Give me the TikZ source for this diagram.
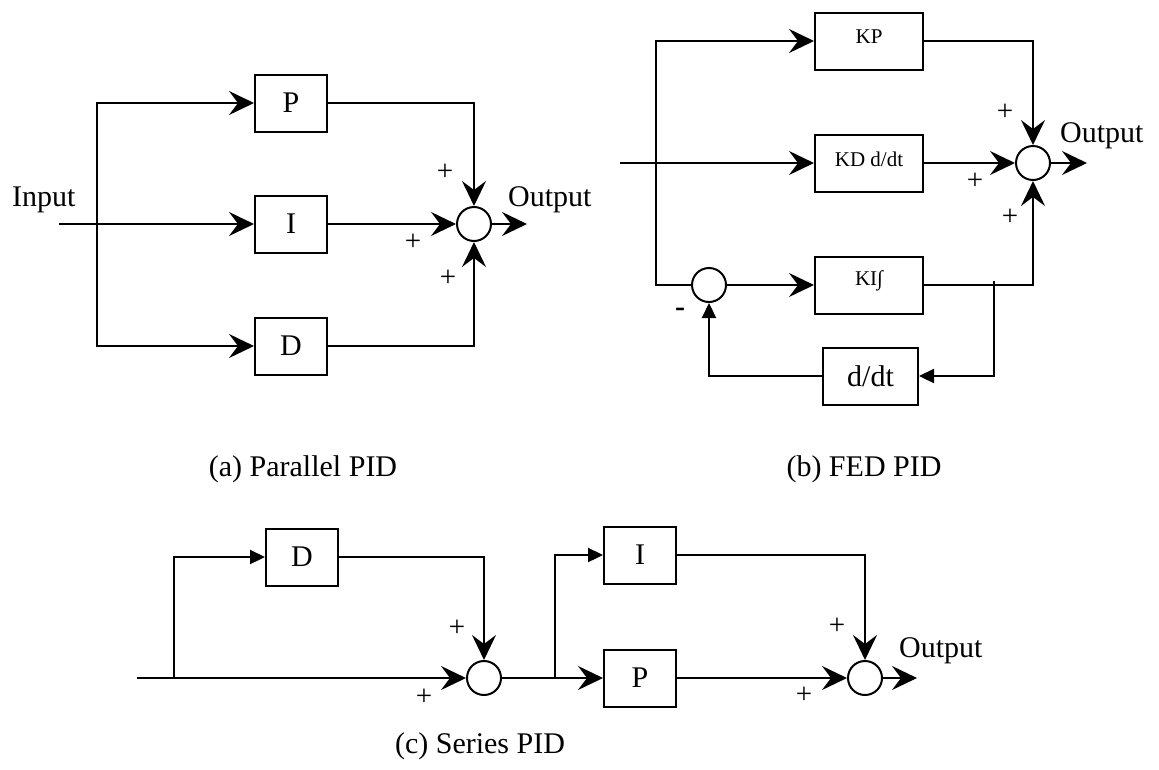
\documentclass[tikz,border=0pt]{standalone}
\usepackage{fontspec}
\setmainfont{Liberation Serif}
\usetikzlibrary{arrows.meta}
\newcommand{\fsz}[1]{\fontsize{#1}{#1}\selectfont}
\tikzset{
  blk/.style={draw, line width=2pt, minimum width=72pt, minimum height=57pt, inner sep=0pt, font=\fsz{30}},
  wideblk/.style={blk, minimum width=108pt},
  sumc/.style={circle, draw, line width=2pt, minimum size=34pt, inner sep=0pt},
  wire/.style={line width=2.3pt},
  bigarr/.style={wire, -{Stealth[length=25pt,width=24pt,inset=9pt]}},
  triarr/.style={wire, -{Triangle[length=15pt,width=14pt]}},
  lbl/.style={inner sep=0pt, font=\fsz{30}},
  small/.style={inner sep=0pt, font=\fsz{21}},
  sgn/.style={inner sep=0pt, font=\fsz{29}}
}
\begin{document}
\begin{tikzpicture}[x=1pt,y=-1pt]
\useasboundingbox (0,0) rectangle (1159,769);
% ---------------- (a) Parallel PID
\node[lbl, anchor=base west] (ainp) at (12,206) {Input};
\coordinate (a0) at (59,224);
\coordinate (ab) at (97,224);
\node[blk] (aP) at (291,103) {P};
\node[blk] (aI) at (291,224) {I};
\node[blk] (aD) at (291,346) {D};
\node[sumc] (aS) at (474,224) {};
\coordinate (aout) at (527,224);
\draw[bigarr] (a0) -- (aI.west);
\draw[bigarr] (ab) |- (aP.west);
\draw[bigarr] (ab) |- (aD.west);
\draw[bigarr] (aP.east) -| (aS.north);
\draw[bigarr] (aI.east) -- (aS.west);
\draw[bigarr] (aD.east) -| (aS.south);
\draw[bigarr] (aS.east) -- (aout);
\node[lbl, anchor=base west] (aoutl) at (508,206) {Output};
\node[sgn] (ap1) at (445,172) {+};
\node[sgn] (ap2) at (413,242) {+};
\node[sgn] (ap3) at (448,278) {+};
\node[lbl, anchor=base] (acap) at (303,476) {(a) Parallel PID};
% ---------------- (b) FED PID
\coordinate (b0) at (620,163);
\coordinate (bb) at (656,163);
\node[wideblk] (bKP) at (869,41) {};
\node[wideblk] (bKD) at (869,163) {};
\node[wideblk] (bKI) at (869,285) {};
\node[small] (tKP) at ([yshift=4pt]bKP.center) {KP};
\node[small] (tKD) at ([yshift=4pt]bKD.center) {KD d/dt};
\node[small] (tKI) at ([yshift=4pt]bKI.center) {KI∫};
\node[blk, minimum width=95pt] (bdd) at (870.5,376) {d/dt};
\node[sumc] (bS2) at (709,285) {};
\node[sumc] (bS) at (1033,163) {};
\coordinate (bf) at (994,281);
\coordinate (bout) at (1087,163);
\draw[bigarr] (b0) -- (bKD.west);
\draw[bigarr] (bb) |- (bKP.west);
\draw[wire] (bb) |- (bS2.west);
\draw[bigarr] (bS2.east) -- (bKI.west);
\draw[bigarr] (bKP.east) -| (bS.north);
\draw[bigarr] (bKD.east) -- (bS.west);
\draw[bigarr] (bKI.east) -| (bS.south);
\draw[triarr] (bf) |- (bdd.east);
\draw[triarr] (bdd.west) -| (bS2.south);
\draw[bigarr] (bS.east) -- (bout);
\node[lbl, anchor=base west] (boutl) at (1060,142) {Output};
\node[sgn] (bp1) at (1005,112) {+};
\node[sgn] (bp2) at (975,181) {+};
\node[sgn] (bp3) at (1010,217) {+};
\node[lbl, font=\fsz{30}\bfseries] (bm) at (680,312) {-};
\node[lbl, anchor=base] (bcap) at (864,476) {(b) FED PID};
% ---------------- (c) Series PID
\coordinate (c0) at (137,678);
\coordinate (cb) at (174,678);
\node[blk] (cD) at (302,557) {D};
\node[sumc] (cS1) at (484,678) {};
\coordinate (cb2) at (555,678);
\node[blk] (cI) at (640,555) {I};
\node[blk] (cP) at (640,678) {P};
\node[sumc] (cS2) at (865,678) {};
\coordinate (cout) at (917,678);
\draw[bigarr] (c0) -- (cS1.west);
\draw[triarr] (cb) |- (cD.west);
\draw[bigarr] (cD.east) -| (cS1.north);
\draw[bigarr] (cS1.east) -- (cP.west);
\draw[triarr] (cb2) |- (cI.west);
\draw[bigarr] (cI.east) -| (cS2.north);
\draw[bigarr] (cP.east) -- (cS2.west);
\draw[bigarr] (cS2.east) -- (cout);
\node[lbl, anchor=base west] (coutl) at (899,657) {Output};
\node[sgn] (cp1) at (457,628) {+};
\node[sgn] (cp2) at (424,697) {+};
\node[sgn] (cp3) at (837,626) {+};
\node[sgn] (cp4) at (804,695) {+};
\node[lbl, anchor=base] (ccap) at (480,753) {(c) Series PID};
\end{tikzpicture}
\end{document}
